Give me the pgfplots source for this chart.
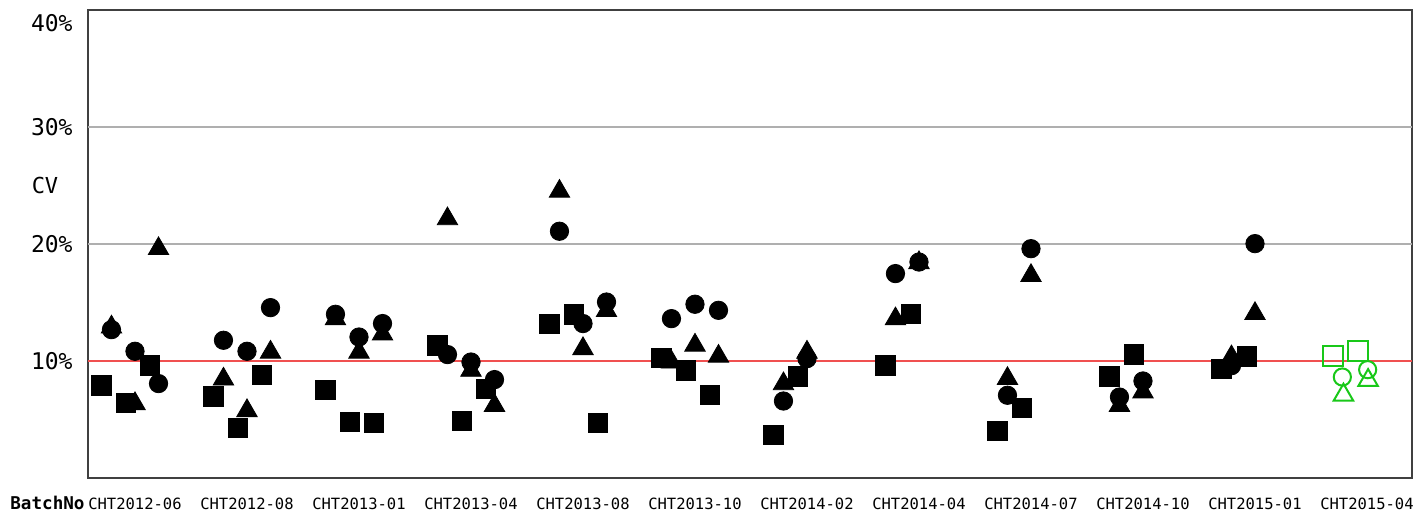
\documentclass[border=0pt]{standalone}
\usepackage{fontspec}
\setmainfont{DejaVu Sans Mono}
\usepackage{pgfplots}
\pgfplotsset{compat=1.18}
\definecolor{gridgray}{RGB}{175,175,175}
\definecolor{refred}{RGB}{240,80,80}
\definecolor{mygreen}{RGB}{25,200,25}
\begin{document}
\begin{tikzpicture}
\begin{axis}[
  scale only axis, width=662pt, height=234pt,
  clip mode=individual,
  xmin=-0.4196, xmax=11.402, ymin=0, ymax=40,
  xtick={0,1,2,3,4,5,6,7,8,9,10,11},
  xticklabels={CHT2012-06,CHT2012-08,CHT2013-01,CHT2013-04,CHT2013-08,CHT2013-10,CHT2014-02,CHT2014-04,CHT2014-07,CHT2014-10,CHT2015-01,CHT2015-04},
  ytick={10,20,30,40},
  yticklabels={10\%,20\%,30\%,\raisebox{-6.5pt}[\height][0pt]{40\%}},
  major tick length=0pt,
  axis line style={black!75, line width=0.7pt},
  xticklabel style={font=\fontsize{7.75}{9}\selectfont, anchor=base, yshift=-15.7pt, inner sep=0pt},
  yticklabel style={font=\fontsize{11.5}{13}\selectfont, anchor=east, inner sep=0pt, xshift=-7.5pt},
]
% grid and reference lines
\addplot[gridgray, line width=1pt, forget plot] coordinates {(-0.4196,20) (11.402,20)};
\addplot[gridgray, line width=1pt, forget plot] coordinates {(-0.4196,30) (11.402,30)};
\addplot[refred, line width=1pt, forget plot] coordinates {(-0.4196,10) (11.402,10)};
% triangles
\addplot[only marks, mark=triangle*, mark size=5.9pt, black] coordinates {
(-0.21,12.9) (0,6.35) (0.21,19.6)
(0.79,8.45) (1,5.75) (1.21,10.75)
(1.79,13.6) (2,10.75) (2.21,12.3)
(2.79,22.15) (3,9.2) (3.21,6.2)
(3.79,24.5) (4,11.05) (4.21,14.3)
(4.79,9.9) (5,11.35) (5.21,10.4)
(5.79,8.05) (6,10.75)
(6.79,13.6) (7,18.4)
(7.79,8.5) (8,17.3)
(8.79,6.2) (9,7.35)
(9.79,10.35) (10,14.05)
};
% circles
\addplot[only marks, mark=*, mark size=4.6pt, black] coordinates {
(-0.21,12.68) (0,10.83) (0.21,8.07)
(0.79,11.77) (1,10.83) (1.21,14.56)
(1.79,13.99) (2,12.05) (2.21,13.2)
(2.79,10.55) (3,9.91) (3.21,8.41)
(3.79,21.09) (4,13.2) (4.21,15.04)
(4.79,13.62) (5,14.85) (5.21,14.33)
(5.79,6.58) (6,10.2)
(6.79,17.47) (7,18.46)
(7.79,7.07) (8,19.6)
(8.79,6.92) (9,8.29)
(9.79,9.6) (10,20.03)
};
% squares
\addplot[only marks, mark=square*, mark size=4.8pt, black] coordinates {
(-0.30,7.92) (-0.08,6.44) (0.13,9.63)
(0.70,6.98) (0.92,4.27) (1.13,8.83)
(1.70,7.5) (1.92,4.79) (2.13,4.73)
(2.70,11.34) (2.92,4.87) (3.13,7.64)
(3.70,13.2) (3.92,13.99) (4.13,4.7)
(4.70,10.29) (4.92,9.2) (5.13,7.13)
(5.70,3.65) (5.92,8.69)
(6.70,9.63) (6.93,14.05)
(7.70,4.02) (7.92,6.02)
(8.70,8.69) (8.92,10.57)
(9.70,9.35) (9.93,10.4)
};
% latest batch (green, open)
\addplot[only marks, mark=triangle, mark size=5.6pt, mygreen, line width=1pt] coordinates {(10.79,7.1) (11.01,8.35)};
\addplot[only marks, mark=o, mark size=4.3pt, mygreen, line width=1pt] coordinates {(10.78,8.63) (11.006,9.26)};
\addplot[only marks, mark=square, mark size=5pt, mygreen, line width=1pt] coordinates {(10.694,10.43) (10.917,10.85)};
\node[font=\fontsize{11}{13}\selectfont, xshift=-21.5pt, yshift=146.3pt] at (rel axis cs:0,0) {CV};
\node[anchor=base west, font=\fontsize{8.8}{10}\selectfont\bfseries, xshift=-39pt, yshift=-15.7pt, inner sep=0pt] at (rel axis cs:0,0) {BatchNo};
\end{axis}
\pgfresetboundingbox
\path[use as bounding box] (-44pt,-17.15pt) rectangle (663pt,239pt);
\end{tikzpicture}
\end{document}
